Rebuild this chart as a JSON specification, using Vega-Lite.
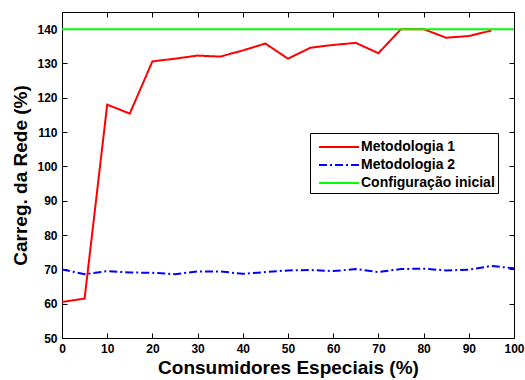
{
  "$schema": "https://vega.github.io/schema/vega-lite/v6.json",
  "autosize": "none",
  "width": 452,
  "height": 326,
  "padding": {"left": 62, "top": 12, "right": 11, "bottom": 42},
  "background": "white",
  "config": {
    "view": {"stroke": "#000000", "strokeWidth": 1},
    "font": "Liberation Sans",
    "axis": {
      "labelFont": "Liberation Sans", "labelFontWeight": "bold", "labelFontSize": 12, "labelColor": "#000000",
      "titleFont": "Liberation Sans", "titleFontWeight": "bold", "titleFontSize": 19, "titleColor": "#000000",
      "grid": false, "domain": false, "tickColor": "#000000", "tickSize": -5, "labelPadding": 10,
      "labelFlush": false, "labelOverlap": false
    }
  },
  "data": {
    "values": [
      {"x": 0, "y": 60.5, "serie": "Metodologia 1"},
      {"x": 5, "y": 61.5, "serie": "Metodologia 1"},
      {"x": 10, "y": 118, "serie": "Metodologia 1"},
      {"x": 15, "y": 115.4, "serie": "Metodologia 1"},
      {"x": 20, "y": 130.6, "serie": "Metodologia 1"},
      {"x": 25, "y": 131.4, "serie": "Metodologia 1"},
      {"x": 30, "y": 132.3, "serie": "Metodologia 1"},
      {"x": 35, "y": 132, "serie": "Metodologia 1"},
      {"x": 40, "y": 133.8, "serie": "Metodologia 1"},
      {"x": 45, "y": 135.8, "serie": "Metodologia 1"},
      {"x": 50, "y": 131.4, "serie": "Metodologia 1"},
      {"x": 55, "y": 134.6, "serie": "Metodologia 1"},
      {"x": 60, "y": 135.4, "serie": "Metodologia 1"},
      {"x": 65, "y": 136, "serie": "Metodologia 1"},
      {"x": 70, "y": 133, "serie": "Metodologia 1"},
      {"x": 75, "y": 140, "serie": "Metodologia 1"},
      {"x": 80, "y": 140, "serie": "Metodologia 1"},
      {"x": 85, "y": 137.5, "serie": "Metodologia 1"},
      {"x": 90, "y": 138, "serie": "Metodologia 1"},
      {"x": 95, "y": 139.6, "serie": "Metodologia 1"},
      {"x": 0, "y": 70, "serie": "Metodologia 2"},
      {"x": 5, "y": 68.6, "serie": "Metodologia 2"},
      {"x": 10, "y": 69.5, "serie": "Metodologia 2"},
      {"x": 15, "y": 69.1, "serie": "Metodologia 2"},
      {"x": 20, "y": 69, "serie": "Metodologia 2"},
      {"x": 25, "y": 68.6, "serie": "Metodologia 2"},
      {"x": 30, "y": 69.4, "serie": "Metodologia 2"},
      {"x": 35, "y": 69.4, "serie": "Metodologia 2"},
      {"x": 40, "y": 68.7, "serie": "Metodologia 2"},
      {"x": 45, "y": 69.2, "serie": "Metodologia 2"},
      {"x": 50, "y": 69.7, "serie": "Metodologia 2"},
      {"x": 55, "y": 69.8, "serie": "Metodologia 2"},
      {"x": 60, "y": 69.5, "serie": "Metodologia 2"},
      {"x": 65, "y": 70.1, "serie": "Metodologia 2"},
      {"x": 70, "y": 69.2, "serie": "Metodologia 2"},
      {"x": 75, "y": 70.1, "serie": "Metodologia 2"},
      {"x": 80, "y": 70.2, "serie": "Metodologia 2"},
      {"x": 85, "y": 69.7, "serie": "Metodologia 2"},
      {"x": 90, "y": 69.9, "serie": "Metodologia 2"},
      {"x": 95, "y": 71, "serie": "Metodologia 2"},
      {"x": 100, "y": 70.3, "serie": "Metodologia 2"},
      {"x": 0, "y": 140, "serie": "Configuração inicial"},
      {"x": 100, "y": 140, "serie": "Configuração inicial"}
    ]
  },
  "layer": [
    {
      "mark": {"type": "line", "strokeWidth": 2, "clip": true},
      "encoding": {
        "x": {"field": "x", "type": "quantitative", "scale": {"domain": [0, 100], "nice": false},
              "axis": {"orient": "bottom", "title": "Consumidores Especiais (%)", "values": [0,10,20,30,40,50,60,70,80,90,100], "titlePadding": 4}},
        "y": {"field": "y", "type": "quantitative", "scale": {"domain": [50, 145], "nice": false, "zero": false},
              "axis": {"orient": "left", "title": "Carreg. da Rede (%)", "values": [50,60,70,80,90,100,110,120,130,140], "titlePadding": 6}},
        "color": {"field": "serie", "type": "nominal",
                  "scale": {"domain": ["Metodologia 1", "Metodologia 2", "Configuração inicial"], "range": ["#FF0000", "#0000FF", "#00FF00"]},
                  "legend": {"title": null, "orient": "none", "legendX": 248, "legendY": 121,
                             "symbolType": "M-2,0H2", "symbolSize": 400, "symbolStrokeWidth": 2, "symbolOffset": 15,
                             "labelFont": "Liberation Sans", "labelFontWeight": "bold", "labelFontSize": 14, "labelColor": "#000000",
                             "strokeColor": "#000000", "fillColor": "#FFFFFF", "padding": 3, "rowPadding": 0, "labelOffset": 11}},
        "strokeDash": {"field": "serie", "type": "nominal",
                  "scale": {"domain": ["Metodologia 1", "Metodologia 2", "Configuração inicial"], "range": [[1, 0], [8, 3, 2, 3], [1, 0]]},
                  "legend": {"title": null}},
        "order": {"field": "x", "type": "quantitative"}
      }
    },
    {
      "mark": {"type": "point", "opacity": 0},
      "encoding": {
        "x": {"field": "x", "type": "quantitative", "axis": {"orient": "top", "labels": false, "title": null, "values": [0,10,20,30,40,50,60,70,80,90,100]}},
        "y": {"field": "y", "type": "quantitative", "axis": {"orient": "right", "labels": false, "title": null, "values": [50,60,70,80,90,100,110,120,130,140]}}
      }
    }
  ]
}
